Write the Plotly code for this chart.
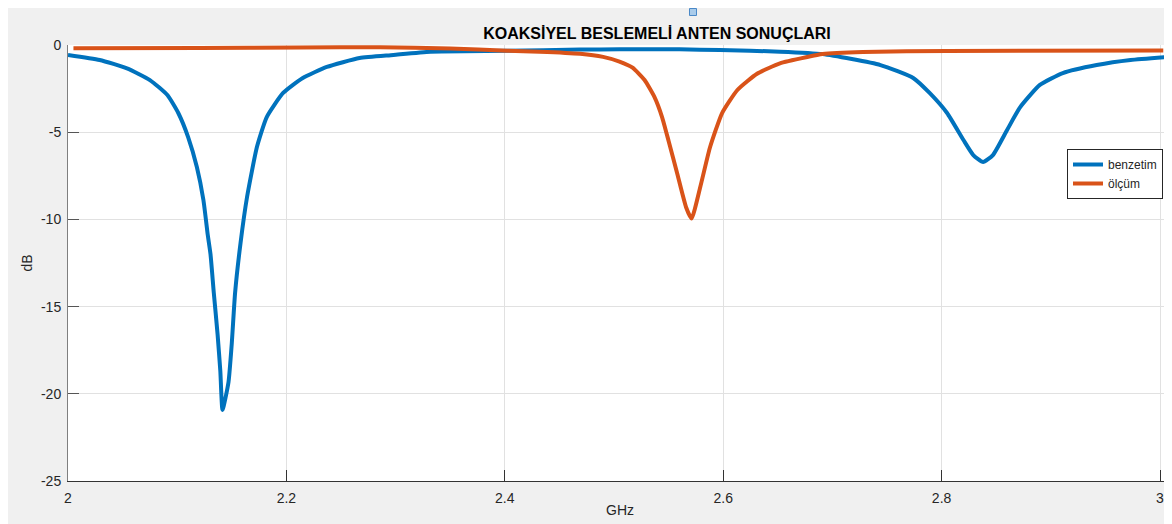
import plotly.graph_objects as go

# benzetim (simulation)
sim_ghz = [2.000, 2.029, 2.054, 2.075, 2.091, 2.101, 2.110, 2.118, 2.124, 2.128,
           2.1305, 2.1335, 2.137, 2.1395, 2.1415, 2.147, 2.150, 2.153, 2.158, 2.164,
           2.173, 2.182, 2.197, 2.215, 2.237, 2.267, 2.298, 2.332, 2.402, 2.469,
           2.505, 2.560, 2.597, 2.652, 2.691, 2.744, 2.774, 2.789, 2.805, 2.820,
           2.829, 2.838, 2.847, 2.860, 2.872, 2.890, 2.911, 2.942, 2.973, 3.006]
sim_db = [-0.57, -0.86, -1.34, -2.01, -2.87, -3.90, -5.28, -7.00, -8.89, -10.90,
          -12.00, -14.20, -16.60, -18.70, -20.93, -19.32, -17.09, -14.22, -11.35, -8.70,
          -5.85, -4.13, -2.75, -1.89, -1.26, -0.75, -0.57, -0.38, -0.33, -0.26,
          -0.25, -0.25, -0.29, -0.38, -0.52, -1.15, -1.89, -2.75, -3.90, -5.45,
          -6.31, -6.71, -6.31, -4.87, -3.56, -2.29, -1.61, -1.15, -0.86, -0.69]

# ölçüm (measurement)
meas_ghz = [2.005, 2.121, 2.212, 2.286, 2.350, 2.402, 2.432, 2.469, 2.490, 2.505,
            2.517, 2.528, 2.537, 2.544, 2.550, 2.558, 2.566, 2.571, 2.579, 2.588,
            2.599, 2.613, 2.631, 2.652, 2.677, 2.691, 2.728, 2.805, 3.003]
meas_db = [-0.19, -0.17, -0.14, -0.13, -0.20, -0.33, -0.38, -0.50, -0.68, -0.95,
           -1.30, -2.01, -2.98, -4.13, -5.50, -7.40, -9.30, -9.95, -8.14, -5.85,
           -3.90, -2.58, -1.65, -1.05, -0.69, -0.52, -0.40, -0.34, -0.32]

x_ticks = [2, 2.2, 2.4, 2.6, 2.8, 3]
x_labels = ["2", "2.2", "2.4", "2.6", "2.8", "3"]
y_ticks = [-25, -20, -15, -10, -5, 0]
y_labels = ["-25", "-20", "-15", "-10", "-5", "0"]

FONT = "Liberation Sans, Arial, Helvetica, sans-serif"
TXT = "#262626"

fig = go.Figure()
fig.add_trace(go.Scatter(x=sim_ghz, y=sim_db, mode="lines", name="benzetim",
                         line=dict(color="#0072BD", width=4, shape="spline", smoothing=0.5)))
fig.add_trace(go.Scatter(x=meas_ghz, y=meas_db, mode="lines", name="ölçüm",
                         line=dict(color="#D95319", width=4, shape="spline", smoothing=0.5)))

# the page places the figure 8px in from the top-left corner
OFF = 8
W, H = 1172 - OFF, 524 - OFF
L, R, T, B = 68 - OFF, 0, 45 - OFF, 43
pw = W - L - R
ph = H - T - B

fig.update_layout(
    width=W, height=H,
    margin=dict(l=L, r=R, t=T, b=B, autoexpand=False),
    paper_bgcolor="#f0f0f0",
    plot_bgcolor="white",
    font=dict(family=FONT, size=14, color=TXT),
    showlegend=True,
    title=dict(text="<b>KOAKSİYEL BESLEMELİ ANTEN SONUÇLARI</b>",
               font=dict(family=FONT, size=16, color="#000000"),
               xref="container", yref="container",
               x=(657 - OFF) / W, xanchor="center", y=1 - (33 - OFF) / H, yanchor="middle"),
    legend=dict(x=(1067 - 68) / pw, y=1 - (149 - 45) / ph, xanchor="left", yanchor="top",
                bgcolor="white", bordercolor="#262626", borderwidth=1,
                font=dict(family=FONT, size=12, color=TXT),
                tracegroupgap=0, itemwidth=30),
    xaxis=dict(range=[2, 2 + pw / 1092], tickvals=x_ticks, ticktext=x_labels,
               automargin=False,
               showgrid=True, gridcolor="#e1e1e1", gridwidth=1,
               zeroline=False, showline=True, linecolor="#333333", linewidth=1,
               ticks="inside", ticklen=11, tickcolor="#333333",
               ticklabelstandoff=4,
               tickfont=dict(size=14, color=TXT),
               title=dict(text="GHz", font=dict(size=14, color=TXT), standoff=0)),
    yaxis=dict(range=[-25, 0], tickvals=y_ticks, ticktext=y_labels,
               automargin=False,
               showgrid=True, gridcolor="#e1e1e1", gridwidth=1,
               zeroline=False, showline=True, linecolor="#7f7f7f", linewidth=1,
               ticks="inside", ticklen=11, tickcolor="#555555",
               ticklabelstandoff=3,
               tickfont=dict(size=14, color=TXT),
               title=dict(text="dB", font=dict(size=14, color=TXT), standoff=5)),
    shapes=[
        dict(type="rect", xref="paper", yref="paper",
             xsizemode="pixel", ysizemode="pixel",
             xanchor=(693 - 68) / pw, yanchor=1 + (45 - 12) / ph,
             x0=-3.5, x1=3.5, y0=-3.5, y1=3.5,
             fillcolor="#a9cbea", line=dict(color="#4a88c7", width=1)),
    ],
)

fig.write_html("out.html")
